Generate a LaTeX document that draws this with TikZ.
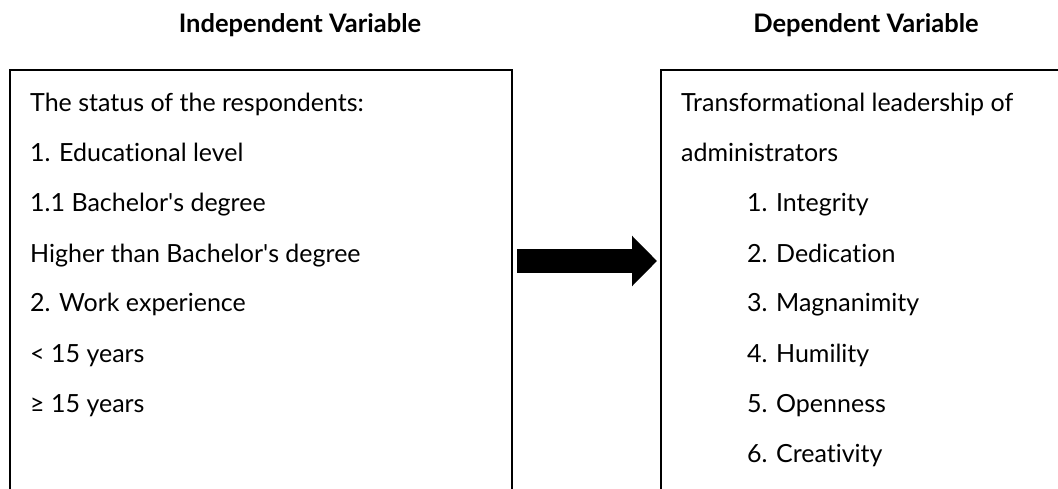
\documentclass[tikz,border=0pt]{standalone}
\usepackage{fontspec}
\setmainfont{Lato}[Ligatures={NoCommon,NoRare}]
\usepackage{tikz}
\usetikzlibrary{arrows.meta}

\tikzset{
  marco/.style={draw, line width=1.6pt, inner sep=0pt, outer sep=0pt, anchor=north west},
  item/.style={anchor=base west, inner sep=0pt},
  titulo/.style={font=\fontsize{25.5}{30}\selectfont\bfseries}
}

\begin{document}
\begin{tikzpicture}[x=1pt, y=-1pt, font=\fontsize{25}{30}\selectfont]
\useasboundingbox (0,0) rectangle (1058,489);
\clip (0,0) rectangle (1058,489);
% Marco conceptual: variable independiente -> variable dependiente
\node[titulo] (tind) at (300,25) {Independent Variable};
\node[titulo] (tdep) at (866,25) {Dependent Variable};
\node[marco, minimum width=502, minimum height=460] (indep) at (10,70) {};
\node[marco, minimum width=500, minimum height=460] (dep) at (661,70) {};
\node[item] (l1) at (30,112) {The status of the respondents:};
\node[item] (l2) at (30,162) {1. Educational level};
\node[item] (l3) at (30,212) {1.1 Bachelor\textquotesingle s degree};
\node[item] (l4) at (30,262) {Higher than Bachelor\textquotesingle s degree};
\node[item] (l5) at (30,312) {2. Work experience};
\node[item] (l6) at (30,362) {< 15 years};
\node[item] (l7) at (30,412) {≥ 15 years};
\node[item] (r1) at (681,112) {Transformational leadership of};
\node[item] (r2) at (681,162) {administrators};
\node[item] (r3) at (747,212) {1. Integrity};
\node[item] (r4) at (747,262) {2. Dedication};
\node[item] (r5) at (747,312) {3. Magnanimity};
\node[item] (r6) at (747,362) {4. Humility};
\node[item] (r7) at (747,412) {5. Openness};
\node[item] (r8) at (747,462) {6. Creativity};
\coordinate (arrS) at (517,261);
\coordinate (arrE) at (657,261);
\draw[line width=24pt, -{Triangle[length=25pt,width=49pt]}] (arrS) -- (arrE);
\end{tikzpicture}
\end{document}
